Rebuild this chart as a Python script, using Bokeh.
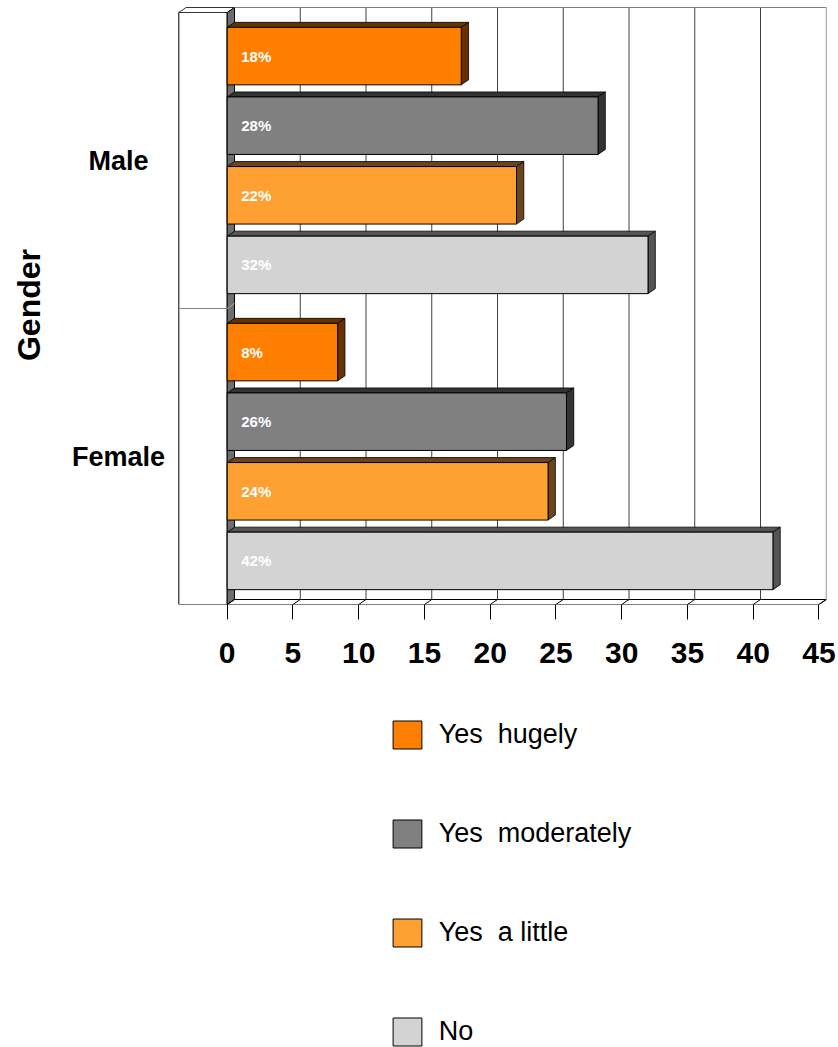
import math
from bokeh.plotting import figure
from bokeh.layouts import column
from bokeh.models import (Range1d, LinearAxis, FixedTicker, Legend, LegendItem,
                          ColumnDataSource)
from bokeh.core.properties import value
from bokeh.embed import file_html
from bokeh.resources import INLINE

# ---------------- data ----------------
categories = ["Male", "Female"]
series = ["Yes  hugely", "Yes  moderately", "Yes  a little", "No"]
male_values = [17.8, 28.2, 22.0, 32.0]
female_values = [8.4, 25.8, 24.4, 41.5]
male_labels = ["18%", "28%", "22%", "32%"]
female_labels = ["8%", "26%", "24%", "42%"]
x_ticks = [0, 5, 10, 15, 20, 25, 30, 35, 40, 45]
axis_title = "Gender"

front_colors = ["#FF8000", "#808080", "#FFA033", "#D3D3D3"]
side_colors = ["#663300", "#333333", "#6B4418", "#555555"]

# ---------------- layout ----------------
FONT = "Liberation Sans"
W = 838
TOTAL_H = 1047
FRAME_H = 604
BELOW_H = 90
H1 = FRAME_H + BELOW_H
H2 = TOTAL_H - H1
PX_PER_UNIT = 13.15
ZERO_PX = 226.7
CAT_PX = 296.0
DX = 7.3 / PX_PER_UNIT
DY = 5.0 / CAT_PX
BAR_H = 57.5 / CAT_PX
PITCH = 69.6 / CAT_PX
X_MAX = x_ticks[-1]
N_CAT = len(categories)
LEFT_BOX = -(226.7 - 178.3) / PX_PER_UNIT

x_start = -ZERO_PX / PX_PER_UNIT
x_end = (W - ZERO_PX) / PX_PER_UNIT
y_end = FRAME_H / CAT_PX

p = figure(width=W, height=H1, x_range=Range1d(x_start, x_end),
           y_range=Range1d(0, y_end), output_backend="svg",
           toolbar_location=None, x_axis_type=None, y_axis_type=None,
           min_border_left=0, min_border_right=0, min_border_top=0,
           min_border_bottom=BELOW_H)
p.outline_line_color = None
p.background_fill_color = "white"
p.border_fill_color = "white"

TOP = float(N_CAT)

# left box (category axis slab)
p.quad(left=[LEFT_BOX], right=[0], bottom=[0], top=[TOP],
       fill_color="white", line_color="black", line_width=1)
p.patch([LEFT_BOX, 0, DX, LEFT_BOX + DX], [TOP, TOP, TOP + DY, TOP + DY],
        fill_color="white", line_color="#333333", line_width=1)
# left wall strip
p.patch([0, DX, DX, 0], [0, DY, TOP + DY, TOP],
        fill_color="#6E6E6E", line_color="black", line_width=1)
# category separators
seps = [float(i) for i in range(1, N_CAT)]
p.segment(x0=[LEFT_BOX] * len(seps), y0=seps, x1=[0] * len(seps), y1=seps,
          line_color="#808080", line_width=1)
p.segment(x0=[0] * len(seps), y0=seps, x1=[DX] * len(seps),
          y1=[s + DY for s in seps], line_color="#AAAAAA", line_width=1)

# floor
p.patch([0, X_MAX, X_MAX + DX, DX], [0, 0, DY, DY],
        fill_color="white", line_color="black", line_width=1)
p.segment(x0=x_ticks, y0=[0] * len(x_ticks),
          x1=[t + DX for t in x_ticks], y1=[DY] * len(x_ticks),
          line_color="black", line_width=1)

# back wall gridlines
grid_x = [t + DX for t in x_ticks[1:]]
grid_col = ["#404040"] * (len(grid_x) - 1) + ["#999999"]
p.segment(x0=grid_x, y0=[DY] * len(grid_x), x1=grid_x,
          y1=[TOP + DY] * len(grid_x), line_color=grid_col, line_width=1)
p.segment(x0=[DX], y0=[TOP + DY], x1=[X_MAX + DX], y1=[TOP + DY],
          line_color="#808080", line_width=1)

# bars
values_by_cat = [male_values, female_values]
labels_by_cat = [male_labels, female_labels]
for j, name in enumerate(series):
    vals, ycs, labs = [], [], []
    for i, cat in enumerate(categories):
        base = N_CAT - 1 - i
        ycs.append(base + 0.5 + (1.5 - j) * PITCH)
        vals.append(values_by_cat[i][j])
        labs.append(labels_by_cat[i][j])
    bots = [y - BAR_H / 2 for y in ycs]
    tops = [y + BAR_H / 2 for y in ycs]
    xs_top = [[0, v, v + DX, DX] for v in vals]
    ys_top = [[t, t, t + DY, t + DY] for t in tops]
    p.patches(xs_top, ys_top, fill_color=side_colors[j], line_color="black",
              line_width=0.8)
    xs_side = [[v, v + DX, v + DX, v] for v in vals]
    ys_side = [[b, b + DY, t + DY, t] for b, t in zip(bots, tops)]
    p.patches(xs_side, ys_side, fill_color=side_colors[j], line_color="black",
              line_width=0.8)
    src = ColumnDataSource(dict(left=[0] * len(vals), right=vals,
                                bottom=bots, top=tops))
    p.quad(left="left", right="right", bottom="bottom", top="top",
           source=src, fill_color=front_colors[j], line_color="black",
           line_width=1)
    lsrc = ColumnDataSource(dict(x=[0] * len(vals), y=ycs, t=labs))
    p.text(x="x", y="y", text="t", source=lsrc, x_offset=14,
           text_align="left", text_baseline="middle", text_color="white",
           text_font=value(FONT), text_font_style="bold",
           text_font_size="15px")

# category labels
p.text(x=[0] * N_CAT, y=[N_CAT - 1 - i + 0.5 for i in range(N_CAT)],
       text=categories, x_offset=-108.7, text_align="center",
       text_baseline="middle", text_font=value(FONT),
       text_font_style="bold", text_font_size="27px", text_color="black")

# axis title
p.text(x=[0], y=[N_CAT / 2.0], text=[axis_title], x_offset=-197.7,
       y_offset=-3.5, angle=math.pi / 2, text_align="center",
       text_baseline="middle", text_font=value(FONT),
       text_font_style="bold", text_font_size="32px", text_color="black")

# x axis
xaxis = LinearAxis(ticker=FixedTicker(ticks=x_ticks))
xaxis.axis_line_color = None
xaxis.major_tick_in = 0
xaxis.major_tick_out = 15
xaxis.major_tick_line_color = "black"
xaxis.minor_tick_line_color = None
xaxis.major_label_standoff = 23
xaxis.major_label_text_font = FONT
xaxis.major_label_text_font_style = "bold"
xaxis.major_label_text_font_size = "30px"
xaxis.major_label_text_color = "black"
p.add_layout(xaxis, "below")

# ---------------- legend figure ----------------
q = figure(width=W, height=H2, x_range=Range1d(0, 1), y_range=Range1d(0, 1),
           output_backend="svg", toolbar_location=None, x_axis_type=None,
           y_axis_type=None, min_border_left=0, min_border_right=0,
           min_border_top=0, min_border_bottom=0)
q.outline_line_color = None
q.background_fill_color = "white"
q.border_fill_color = "white"
items = []
for j, name in enumerate(series):
    # legend swatch renderers (kept outside the visible range)
    r = q.quad(left=[5], right=[6], bottom=[5], top=[6],
               fill_color=front_colors[j], line_color="black", line_width=1)
    items.append(LegendItem(label=name, renderers=[r]))
legend = Legend(items=items, location=(388.7, -2), orientation="vertical",
                glyph_width=36, glyph_height=35, label_height=31,
                label_standoff=14, spacing=64, padding=0, margin=0,
                border_line_color=None, background_fill_alpha=0,
                label_text_font=FONT, label_text_font_size="27px",
                label_text_color="black")
q.add_layout(legend, "center")

layout = column(p, q, spacing=0)
open("out.html", "w").write(file_html(layout, INLINE))
